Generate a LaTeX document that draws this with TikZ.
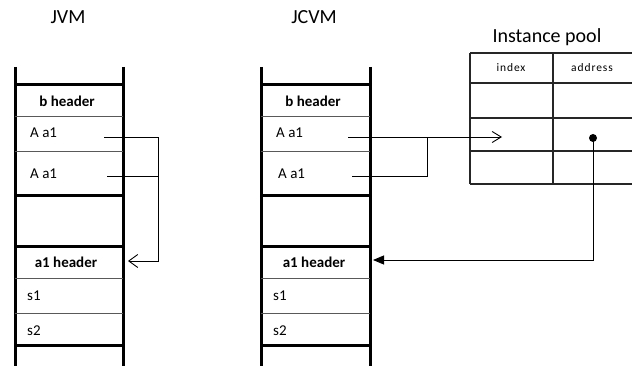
\documentclass[tikz,border=0pt]{standalone}
\usepackage{fontspec}
\setmainfont{Carlito}
\usetikzlibrary{arrows.meta}
\begin{document}
\begin{tikzpicture}[x=1pt,y=-1pt,
  thickline/.style={line width=3pt, line cap=butt},
  thinline/.style={line width=0.9pt, black!65},
  tabline/.style={line width=1.3pt, black!85},
  conn/.style={line width=0.9pt, black},
  title/.style={font=\fontsize{20}{23}\selectfont, anchor=base, inner sep=0pt},
  cell/.style={font=\fontsize{15}{17}\selectfont, anchor=base west, inner sep=0pt},
  hdr/.style={font=\fontsize{15}{17}\selectfont\bfseries, anchor=base, inner sep=0pt},
  tab/.style={font=\fontsize{11.5}{13}\selectfont\addfontfeature{LetterSpace=8}, anchor=base, inner sep=0pt}
]
\useasboundingbox (0,0) rectangle (632,366);

% ---------- stacks ----------
\foreach \xa/\xb in {15/123, 261/370}{
  \draw[thickline] (\xa,67) -- (\xa,366);
  \draw[thickline] (\xb,67) -- (\xb,366);
  \foreach \yy in {85,196,247,345} \draw[thickline] (\xa,\yy) -- (\xb,\yy);
  \foreach \yy in {116,151,278,313} \draw[thinline] (\xa,\yy) -- (\xb,\yy);
}

\node[title] (jvm) at (68,24) {JVM};
\node[title] (jcvm) at (314,24) {JCVM};

\node[hdr] (bh1) at (67,107) {b header};
\node[cell] (a11) at (30,138) {A a1};
\node[cell] (a12) at (30,179) {A a1};
\node[hdr] (ah1) at (66,267) {a1 header};
\node[cell] (s11) at (27,300) {s1};
\node[cell] (s21) at (27,335) {s2};

\node[hdr] (bh2) at (313,107) {b header};
\node[cell] (a21) at (276,138) {A a1};
\node[cell] (a22) at (278,179) {A a1};
\node[hdr] (ah2) at (314,267) {a1 header};
\node[cell] (s12) at (273,300) {s1};
\node[cell] (s22) at (273,335) {s2};

% ---------- Instance pool ----------
\node[title] (pool) at (547,43) {Instance pool};
\foreach \yy in {53,83,118,151,184} \draw[tabline] (470,\yy) -- (632,\yy);
\draw[tabline] (470,53) -- (470,184);
\draw[tabline] (553,53) -- (553,184);
\node[tab] (idx) at (511,72) {index};
\node[tab] (addr) at (592,72) {address};

% ---------- connector points ----------
\coordinate (p1) at (104,137);
\coordinate (p2) at (107,176);
\coordinate (j1) at (158,137);
\coordinate (j2) at (158,176);
\coordinate (j3) at (158,261);
\coordinate (t1) at (128,261);

\coordinate (q1) at (348,137);
\coordinate (q2) at (352,176);
\coordinate (k1) at (427,137);
\coordinate (k2) at (427,176);
\coordinate (t2) at (502,137);

\node[circle, fill=black, inner sep=0pt, minimum size=8pt] (dot) at (593,138) {};
\coordinate (k3) at (593,260);
\coordinate (t3) at (373,260);

% ---------- connectors ----------
\draw[conn, -{Straight Barb[length=9pt,width=13pt,line width=0.9pt]}] (p1) -- (j1) -- (j3) -- (t1);
\draw[conn] (p2) -- (j2);

\draw[conn, -{Straight Barb[length=9pt,width=11pt,line width=0.9pt]}] (q1) -- (t2);
\draw[conn] (q2) -- (k2) -- (k1);

\draw[conn, -{Triangle[length=11pt,width=9pt]}] (dot.center) -- (k3) -- (t3);
\end{tikzpicture}
\end{document}
